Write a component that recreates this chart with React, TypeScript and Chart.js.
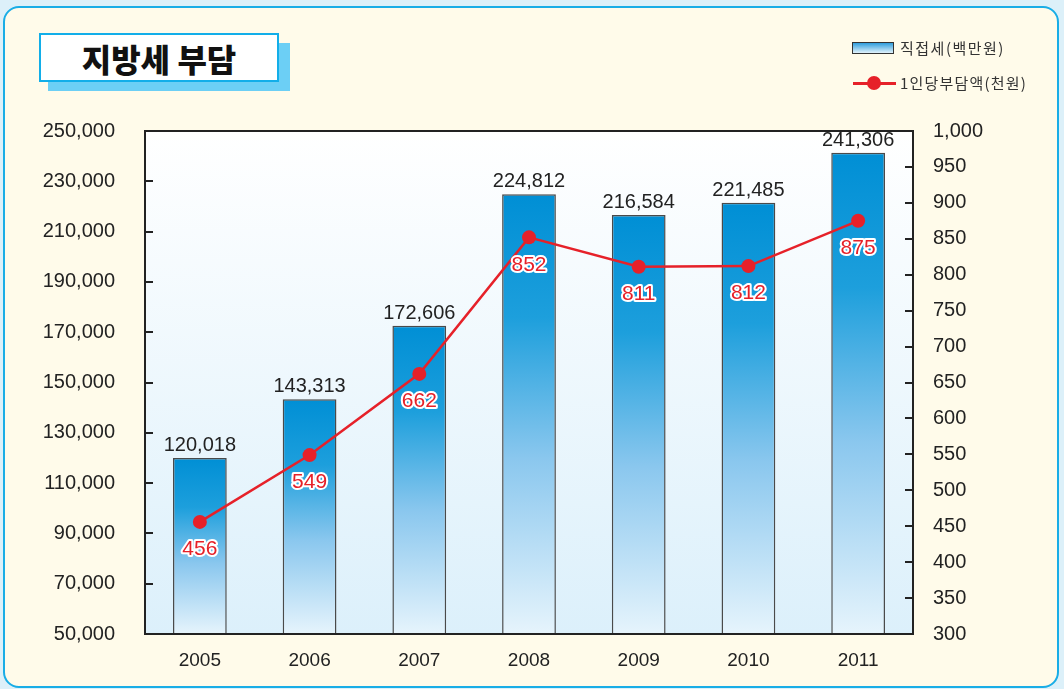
import React, { useEffect, useRef } from "react";
import { Chart, registerables } from "chart.js";

Chart.register(...registerables);

const years = ["2005", "2006", "2007", "2008", "2009", "2010", "2011"];
const directTax = [120018, 143313, 172606, 224812, 216584, 221485, 241306];
const perCapita = [456, 549, 662, 852, 811, 812, 875];
const leftTicks = [50000, 70000, 90000, 110000, 130000, 150000, 170000, 190000, 210000, 230000, 250000];
const rightTicks = [300, 350, 400, 450, 500, 550, 600, 650, 700, 750, 800, 850, 900, 950, 1000];

const titleText = "지방세 부담";
const barLegend = "직접세(백만원)";
const lineLegend = "1인당부담액(천원)";

const NUM_FONT = "'Liberation Sans', Arial, Helvetica, sans-serif";
const KR_FONT = "'Noto Sans CJK KR', 'Noto Sans', sans-serif";
const RED = "#e62129";

const fmt = (v: number) => v.toLocaleString("en-US");

const decorPlugin = {
  id: "decor",
  beforeDatasetsDraw(chart: any) {
    const { ctx, chartArea: a } = chart;
    const g = ctx.createLinearGradient(0, a.top, 0, a.bottom);
    g.addColorStop(0, "#ffffff");
    g.addColorStop(1, "#dcf0fb");
    ctx.save();
    ctx.fillStyle = g;
    ctx.fillRect(a.left, a.top, a.right - a.left, a.bottom - a.top);
    ctx.restore();
  },
  afterDatasetsDraw(chart: any) {
    const { ctx, chartArea: a } = chart;
    ctx.save();
    // frame
    ctx.strokeStyle = "#222";
    ctx.lineWidth = 2;
    ctx.strokeRect(a.left, a.top, a.right - a.left, a.bottom - a.top);
    // inward ticks
    const y = chart.scales.y;
    const y1 = chart.scales.y1;
    ctx.lineWidth = 2;
    ctx.beginPath();
    leftTicks.forEach((t) => {
      const p = Math.round(y.getPixelForValue(t));
      ctx.moveTo(a.left, p);
      ctx.lineTo(a.left + 8, p);
    });
    rightTicks.forEach((t) => {
      const p = Math.round(y1.getPixelForValue(t));
      ctx.moveTo(a.right - 8, p);
      ctx.lineTo(a.right, p);
    });
    ctx.stroke();

    // bar value labels
    const barMeta = chart.getDatasetMeta(1);
    ctx.font = `20px ${NUM_FONT}`;
    ctx.textAlign = "center";
    ctx.textBaseline = "alphabetic";
    ctx.fillStyle = "#222";
    barMeta.data.forEach((el: any, i: number) => {
      ctx.fillText(fmt(directTax[i]), el.x, el.y - 7);
    });

    // line value labels
    const lineMeta = chart.getDatasetMeta(0);
    ctx.font = `21px ${NUM_FONT}`;
    ctx.textBaseline = "top";
    ctx.lineJoin = "round";
    lineMeta.data.forEach((el: any, i: number) => {
      const txt = String(perCapita[i]);
      ctx.strokeStyle = "#ffffff";
      ctx.lineWidth = 4;
      ctx.strokeText(txt, el.x, el.y + 17);
      ctx.fillStyle = RED;
      ctx.fillText(txt, el.x, el.y + 17);
    });
    ctx.restore();
  },
};

export default function App() {
  const ref = useRef<HTMLCanvasElement | null>(null);

  useEffect(() => {
    const canvas = ref.current;
    if (!canvas) return;
    const barFill = (c: any) => {
      const chart = c.chart;
      const area = chart.chartArea;
      if (!area || c.dataIndex === undefined) return "#3aa6e0";
      const ys = chart.scales.y;
      const top = ys.getPixelForValue(directTax[c.dataIndex]);
      const bottom = area.bottom;
      const g = chart.ctx.createLinearGradient(0, top, 0, bottom);
      g.addColorStop(0, "#008fd5");
      g.addColorStop(0.28, "#1d9fdc");
      g.addColorStop(0.6, "#8ac7ee");
      g.addColorStop(1, "#e6f4fc");
      return g;
    };
    const chart = new Chart(canvas, {
      type: "bar",
      data: {
        labels: years,
        datasets: [
          {
            type: "line",
            label: lineLegend,
            data: perCapita,
            yAxisID: "y1",
            borderColor: RED,
            backgroundColor: RED,
            borderWidth: 2.5,
            pointRadius: 7,
            pointBackgroundColor: RED,
            pointBorderWidth: 0,
            tension: 0,
            order: 0,
          } as any,
          {
            type: "bar",
            label: barLegend,
            data: directTax,
            yAxisID: "y",
            backgroundColor: barFill,
            borderColor: "#4a4a4a",
            borderWidth: { top: 1.5, left: 1.5, right: 1.5, bottom: 0 },
            borderSkipped: false,
            barPercentage: 0.49,
            categoryPercentage: 1,
            order: 1,
          } as any,
        ],
      },
      options: {
        responsive: false,
        animation: false,
        layout: { padding: { top: 131, left: 0, right: 0, bottom: 0 } },
        plugins: {
          legend: { display: false },
          tooltip: { enabled: false },
          title: { display: false },
        },
        scales: {
          x: {
            grid: { display: false, drawTicks: false },
            border: { display: false },
            ticks: {
              color: "#222",
              font: { family: NUM_FONT, size: 19 },
              padding: 15,
            },
            afterFit: (s: any) => {
              s.height = 55;
            },
          },
          y: {
            position: "left",
            min: 50000,
            max: 250000,
            grid: { display: false, drawTicks: false },
            border: { display: false },
            afterBuildTicks: (s: any) => {
              s.ticks = leftTicks.map((v) => ({ value: v }));
            },
            ticks: {
              color: "#222",
              font: { family: NUM_FONT, size: 20 },
              padding: 30,
              callback: (v: any) => fmt(Number(v)),
            },
            afterFit: (s: any) => {
              s.width = 145;
            },
          },
          y1: {
            position: "right",
            min: 300,
            max: 1000,
            grid: { display: false, drawTicks: false },
            border: { display: false },
            afterBuildTicks: (s: any) => {
              s.ticks = rightTicks.map((v) => ({ value: v }));
            },
            ticks: {
              color: "#222",
              font: { family: NUM_FONT, size: 20 },
              padding: 20,
              callback: (v: any) => fmt(Number(v)),
            },
            afterFit: (s: any) => {
              s.width = 151;
            },
          },
        },
      },
      plugins: [decorPlugin],
    });
    return () => chart.destroy();
  }, []);

  return (
    <div
      style={{
        position: "fixed",
        left: 0,
        top: 0,
        width: 1064,
        height: 689,
        background: "#dcf0f9",
        overflow: "hidden",
      }}
    >
      <div
        style={{
          position: "absolute",
          left: 3,
          top: 6,
          width: 1052,
          height: 678,
          background: "#fffbea",
          border: "2px solid #19ade6",
          borderRadius: 16,
        }}
      />
      <div
        style={{
          position: "absolute",
          left: 48,
          top: 43,
          width: 242,
          height: 48,
          background: "#6ccff5",
        }}
      />
      <div
        style={{
          position: "absolute",
          left: 39,
          top: 33,
          width: 236,
          height: 45,
          background: "#ffffff",
          border: "2.5px solid #12aee9",
          display: "flex",
          alignItems: "center",
          justifyContent: "center",
          fontFamily: KR_FONT,
          fontWeight: 900,
          fontSize: 32,
          color: "#111",
          lineHeight: 1,
        }}
      >
        {titleText}
      </div>
      <canvas
        ref={ref}
        width={1064}
        height={689}
        style={{ position: "absolute", left: 0, top: 0, width: 1064, height: 689 }}
      />
      <div
        style={{
          position: "absolute",
          left: 852,
          top: 42,
          width: 40,
          height: 10,
          border: "1px solid #333",
          background: "linear-gradient(#2f9ddc, #e2f2fb)",
        }}
      />
      <div
        style={{
          position: "absolute",
          left: 900,
          top: 38,
          fontFamily: KR_FONT,
          fontSize: 15,
          letterSpacing: 1.5,
          color: "#333",
          lineHeight: "20px",
          whiteSpace: "nowrap",
        }}
      >
        {barLegend}
      </div>
      <div
        style={{
          position: "absolute",
          left: 853,
          top: 82,
          width: 43,
          height: 2.5,
          background: RED,
        }}
      />
      <div
        style={{
          position: "absolute",
          left: 867,
          top: 76,
          width: 14,
          height: 14,
          borderRadius: "50%",
          background: RED,
        }}
      />
      <div
        style={{
          position: "absolute",
          left: 900,
          top: 73,
          fontFamily: KR_FONT,
          fontSize: 15,
          letterSpacing: 1.2,
          color: "#333",
          lineHeight: "20px",
          whiteSpace: "nowrap",
        }}
      >
        {lineLegend}
      </div>
    </div>
  );
}
